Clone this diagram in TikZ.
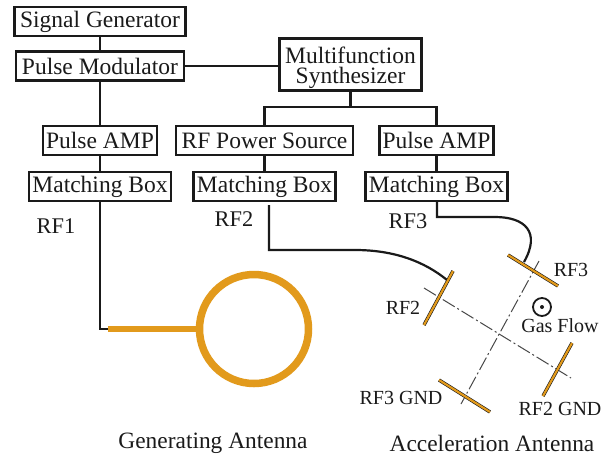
\documentclass[tikz,border=0pt]{standalone}
\usepackage{fontspec}
\setmainfont{Liberation Serif}
\definecolor{antenna}{HTML}{E29A1C}
\definecolor{inkc}{HTML}{1A1A1A}
\tikzset{
  x=1pt,y=-1pt,
  blockbox/.style={draw=inkc,line width=2.4pt,fill=white,inner sep=0pt,font=\fontsize{23.5}{21}\selectfont,text=inkc,align=center},
  wire/.style={draw=inkc,line width=2.2pt},
  lab/.style={inner sep=0pt,font=\fontsize{22.4}{23}\selectfont,text=inkc},
  smalllab/.style={inner sep=0pt,font=\fontsize{20}{21}\selectfont,text=inkc},
  caplab/.style={inner sep=0pt,font=\fontsize{23.4}{24}\selectfont,text=inkc},
  electrode/.style={line width=3.4pt,draw=inkc!85!black,line cap=butt},
  electrodecore/.style={line width=2.2pt,draw=antenna},
  axisline/.style={draw=inkc!80,line width=1pt,dash pattern=on 14pt off 3pt on 2pt off 3pt}
}
\begin{document}
\begin{tikzpicture}
\useasboundingbox (0,0) rectangle (610,456);
\fill[white] (0,0) rectangle (610,456);
\node[blockbox,minimum width=171pt,minimum height=29pt] (sg) at (100,21.5) {Signal Generator};
\node[blockbox,minimum width=168pt,minimum height=29pt] (pm) at (100,66) {Pulse Modulator};
\node[blockbox,minimum width=142pt,minimum height=52pt] (ms) at (350.5,64.5) {\rule{0pt}{24pt}Multifunction\\[-1pt]Synthesizer};
\node[blockbox,minimum width=114pt,minimum height=29pt] (pa1) at (100,140.5) {Pulse AMP};
\node[blockbox,minimum width=142pt,minimum height=29pt] (mb1) at (100,186.5) {Matching Box};
\node[blockbox,minimum width=177pt,minimum height=29pt] (rf) at (264.5,140.5) {RF Power Source};
\node[blockbox,minimum width=142pt,minimum height=29pt] (mb2) at (264.5,186.5) {Matching Box};
\node[blockbox,minimum width=114pt,minimum height=29pt] (pa3) at (436.5,140.5) {Pulse AMP};
\node[blockbox,minimum width=142pt,minimum height=29pt] (mb3) at (436.5,186.5) {Matching Box};
% connectors
\draw[wire] (sg.south) -- (pm.north);
\draw[wire] (pm.east) -- (pm.east -| ms.west);
\draw[wire] (pm.south) -- (pa1.north);
\draw[wire] (pa1.south) -- (mb1.north);
\draw[wire] (rf.south) -- (mb2.north);
\draw[wire] (pa3.south) -- (mb3.north);
\draw[wire] (ms.south) -- (350.5,107) coordinate (split);
\draw[wire] (rf.north) |- (split) -| (pa3.north);
% antenna positions
\coordinate (rf2wire) at (269,205);
\coordinate (rf3wire) at (437,201);
\coordinate (ra) at (508,255); \coordinate (rb) at (558,286);
\coordinate (sa) at (453,271); \coordinate (sb) at (424,325);
\coordinate (ta) at (572,343); \coordinate (tb) at (543,396);
\coordinate (ua) at (439,380); \coordinate (ub) at (490,412);
\coordinate (feed) at (524,262);
\coordinate (feedb) at (447,280);
% generating antenna
\node[circle,draw=antenna,line width=7.5pt,minimum size=109pt,inner sep=0pt] (loop) at (254,329) {};
\draw[wire] (mb1.south) -- (100,329) -- (108,329) coordinate (stub);
\draw[draw=antenna,line width=6pt] (stub) -- (loop.west);
% wires to acceleration antenna
\draw[wire] (rf2wire) -- (269,250) -- (355,250) .. controls (395,250) and (425,262) .. (feedb);
\draw[wire] (rf3wire) -- (437,217) -- (495,217) .. controls (525,217) and (541,232) .. (feed);
% axes
\draw[axisline] (539,261) -- (461,404);
\draw[axisline] (424,288) -- (571,378);
% electrodes
\foreach \p/\q in {ra/rb,sa/sb,ta/tb,ua/ub}{
  \draw[electrode] (\p) -- (\q);
  \draw[electrodecore] (\p) -- (\q);
}
% gas flow symbol
\node[circle,draw=inkc,line width=1.8pt,minimum size=18pt,inner sep=0pt] (flow) at (542,307) {};
\node[circle,fill=inkc,minimum size=4pt,inner sep=0pt] (flowdot) at (542,307) {};
% labels
\node[lab] (l1) at (56,226) {RF1};
\node[lab] (l2) at (234,219) {RF2};
\node[lab] (l3) at (408,221) {RF3};
\node[smalllab] (l4) at (571,270) {RF3};
\node[smalllab] (l5) at (403,308) {RF2};
\node[smalllab] (l6) at (560,326) {Gas Flow};
\node[smalllab] (l7) at (401,398) {RF3 GND};
\node[smalllab] (l8) at (560,409) {RF2 GND};
\node[caplab] (c1) at (213,443) {Generating Antenna};
\node[caplab] (c2) at (492,443) {Acceleration Antenna};
\end{tikzpicture}
\end{document}
